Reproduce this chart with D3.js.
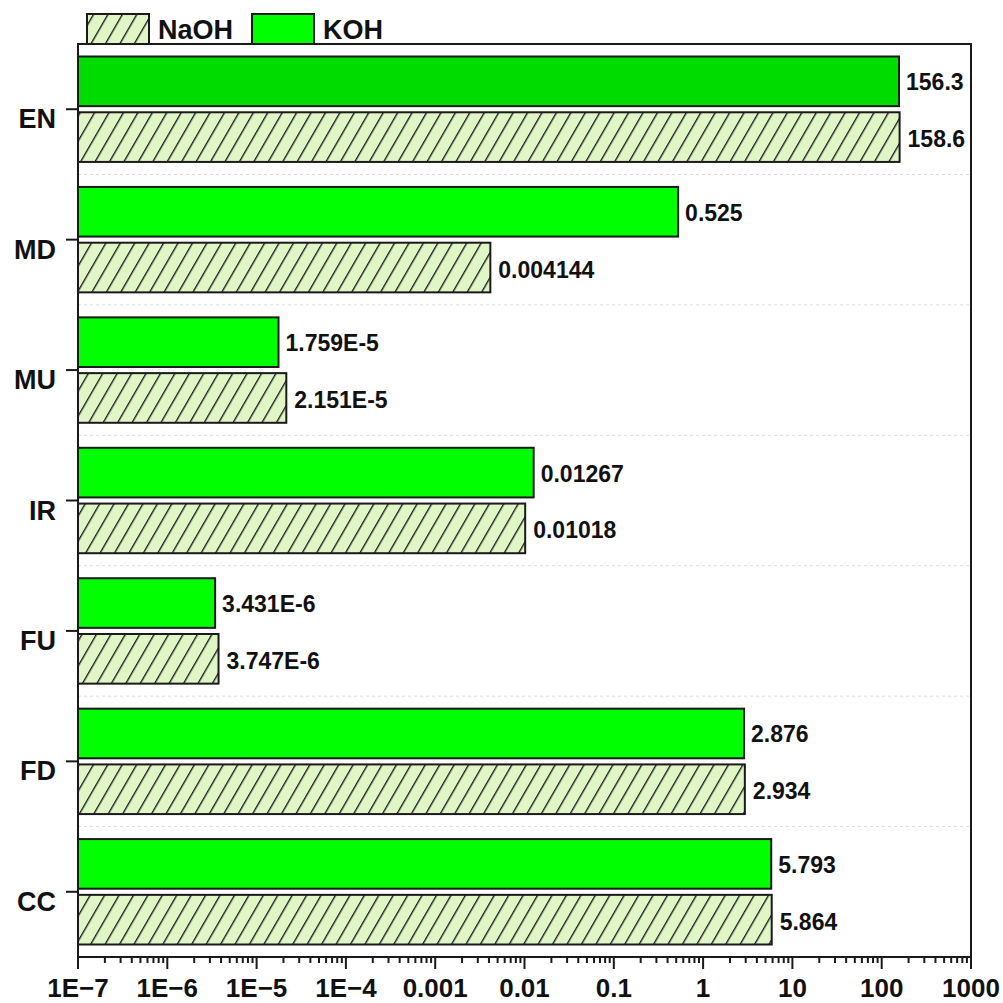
<!DOCTYPE html>
<html><head><meta charset="utf-8">
<script src="https://cdn.jsdelivr.net/npm/d3@7"></script>
<style>html,body{margin:0;padding:0;background:#fff}svg{display:block}</style>
</head><body>
<script>
const categories = ["EN","MD","MU","IR","FU","FD","CC"];
const seriesNames = ["NaOH","KOH"];
const kohValues = [156.3, 0.525, 1.759e-5, 0.01267, 3.431e-6, 2.876, 5.793];
const naohValues = [158.6, 0.004144, 2.151e-5, 0.01018, 3.747e-6, 2.934, 5.864];
const kohLabels = ["156.3","0.525","1.759E-5","0.01267","3.431E-6","2.876","5.793"];
const naohLabels = ["158.6","0.004144","2.151E-5","0.01018","3.747E-6","2.934","5.864"];
const tickValues = [1e-7,1e-6,1e-5,1e-4,1e-3,1e-2,1e-1,1,10,100,1000];
const tickLabels = ["1E\u22127","1E\u22126","1E\u22125","1E\u22124","0.001","0.01","0.1","1","10","100","1000"];

const W = 1003, H = 1003;
const L = 78, R = 971, T = 44, B = 957;
const font = "'Liberation Sans', Arial, sans-serif";

const svg = d3.select("body").append("svg").attr("width", W).attr("height", H);
const defs = svg.append("defs");
const pat = defs.append("pattern").attr("id","hatch").attr("patternUnits","userSpaceOnUse")
  .attr("width",12.5).attr("height",12.5).attr("patternTransform","rotate(30)");
pat.append("rect").attr("width",12.5).attr("height",12.5).attr("fill","#e0f6c6");
pat.append("line").attr("x1",0.7).attr("y1",-1).attr("x2",0.7).attr("y2",14).attr("stroke","#111").attr("stroke-width",1.3);

const x = d3.scaleLog().domain([1e-7, 1000]).range([L, R]);
const y0 = d3.scaleBand().domain(categories).range([T, B]);
const y1 = d3.scaleBand().domain(["KOH","NaOH"]).range([12.5, y0.bandwidth() - 12.5]).paddingInner(0.11);

// gridlines between bands
categories.slice(1).forEach(c => {
  svg.append("line").attr("x1", L).attr("x2", R).attr("y1", y0(c)).attr("y2", y0(c))
    .attr("stroke", "#dcdcdc").attr("stroke-width", 1).attr("stroke-dasharray", "3,3");
});

const rows = categories.map((c, i) => ({c, i}));
const g = svg.append("g");
// KOH bars
g.selectAll("rect.koh").data(rows).enter().append("rect")
  .attr("x", L).attr("y", d => y0(d.c) + y1("KOH"))
  .attr("width", d => x(kohValues[d.i]) - L).attr("height", y1.bandwidth())
  .attr("fill", d => d.i === 0 ? "#00dc00" : "#00ff00")
  .attr("stroke", "#1a1a1a").attr("stroke-width", 2);
// NaOH bars
g.selectAll("rect.naoh").data(rows).enter().append("rect")
  .attr("x", L).attr("y", d => y0(d.c) + y1("NaOH"))
  .attr("width", d => x(naohValues[d.i]) - L).attr("height", y1.bandwidth())
  .attr("fill", "url(#hatch)")
  .attr("stroke", "#1a1a1a").attr("stroke-width", 2);

// value labels
function label(sel){
  return sel.attr("font-family", font).attr("font-weight", "bold").attr("font-size", "23px").attr("fill", "#111");
}
label(g.selectAll("text.kl").data(rows).enter().append("text")
  .attr("x", d => x(kohValues[d.i]) + 7)
  .attr("y", d => y0(d.c) + y1("KOH") + y1.bandwidth()/2 + 9)
  .text(d => kohLabels[d.i]));
label(g.selectAll("text.nl").data(rows).enter().append("text")
  .attr("x", d => x(naohValues[d.i]) + 8)
  .attr("y", d => y0(d.c) + y1("NaOH") + y1.bandwidth()/2 + 10)
  .text(d => naohLabels[d.i]));

// frame
svg.append("rect").attr("x", L).attr("y", T).attr("width", R - L).attr("height", B - T)
  .attr("fill", "none").attr("stroke", "#1a1a1a").attr("stroke-width", 2);

// y axis ticks & labels
categories.forEach(c => {
  const cy = y0(c) + y0.bandwidth()/2;
  svg.append("line").attr("x1", L - 12).attr("x2", L).attr("y1", cy).attr("y2", cy)
    .attr("stroke", "#1a1a1a").attr("stroke-width", 2);
  svg.append("text").attr("x", 56).attr("y", cy + 19).attr("text-anchor", "end")
    .attr("font-family", font).attr("font-weight", "bold").attr("font-size", "27px")
    .attr("fill", "#111").text(c);
});

// x axis ticks
const minor = [];
for (let e = -7; e < 3; e++) for (let k = 2; k <= 9; k++) minor.push(k * Math.pow(10, e));
minor.forEach(v => {
  svg.append("line").attr("x1", x(v)).attr("x2", x(v)).attr("y1", B).attr("y2", B + 6)
    .attr("stroke", "#1a1a1a").attr("stroke-width", 2);
});
tickValues.forEach((v, i) => {
  svg.append("line").attr("x1", x(v)).attr("x2", x(v)).attr("y1", B).attr("y2", B + 12)
    .attr("stroke", "#1a1a1a").attr("stroke-width", 2);
  svg.append("text").attr("x", x(v)).attr("y", 997).attr("text-anchor", "middle")
    .attr("font-family", font).attr("font-weight", "bold").attr("font-size", "26px")
    .attr("fill", "#111").text(tickLabels[i]);
});

// legend
const legendX = [87, 252];
seriesNames.forEach((s, i) => {
  svg.append("rect").attr("x", legendX[i]).attr("y", 14).attr("width", 62).attr("height", 30)
    .attr("fill", s === "NaOH" ? "url(#hatch)" : "#00ff00")
    .attr("stroke", "#1a1a1a").attr("stroke-width", 2);
  svg.append("text").attr("x", legendX[i] + 71).attr("y", 39)
    .attr("font-family", font).attr("font-weight", "bold").attr("font-size", "27px")
    .attr("fill", "#111").text(s);
});
</script>
</body></html>
